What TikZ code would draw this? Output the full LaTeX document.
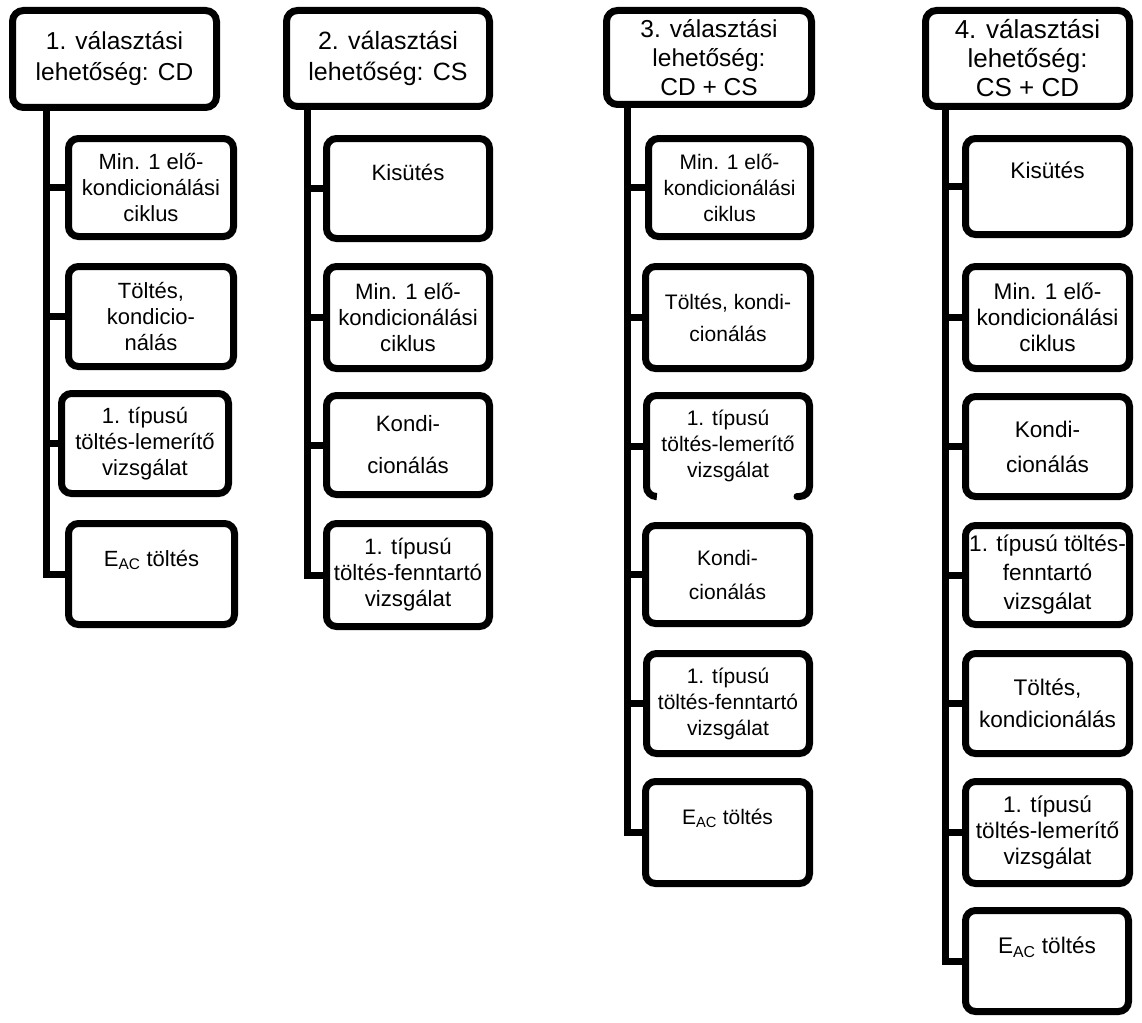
\documentclass[tikz,border=0pt]{standalone}
\usepackage{fontspec}
\setmainfont{Liberation Sans}
\tikzset{
  hdr/.style={draw, line width=7pt, rounded corners=11pt, align=center, inner sep=0pt,
    font=\fontsize{#1}{29}\selectfont},
  stepbox/.style={draw, line width=7pt, rounded corners=10pt, align=center, inner sep=0pt,
    font=\fontsize{#1}{26}\selectfont},
  conn/.style={line width=7pt},
}
\newcommand\boxat[7]{%
  \pgfmathsetmacro\cx{(#3+#5)/2}%
  \pgfmathsetmacro\cy{(#4+#6)/2}%
  \pgfmathsetmacro\ww{#5-#3-7}%
  \pgfmathsetmacro\hh{#6-#4-7}%
  \node[#1, minimum width=\ww pt, minimum height=\hh pt] (#2) at (\cx,\cy) {#7};}
\newcommand\upper[1]{\strut #1\\\strut}
\newcommand\eac{E\textsubscript{AC} töltés}
\begin{document}
\begin{tikzpicture}[x=1pt,y=-1pt]
\useasboundingbox[fill=white] (0,0) rectangle (1142,1022);

% Column 1
\boxat{hdr=24.5}{h1}{9}{7}{220}{111}{1. választási\\[2pt]lehetőség: CD}
\boxat{stepbox=22}{c1a}{65}{135}{237}{240}{Min. 1 elő-\\kondicionálási\\ciklus}
\boxat{stepbox=22}{c1b}{65}{263}{237}{370}{Töltés,\\kondicio-\\nálás}
\boxat{stepbox=22}{c1c}{58}{390}{232}{497}{1. típusú\\töltés-lemerítő\\vizsgálat}
\boxat{stepbox=22}{c1d}{65}{520}{238}{628}{\upper{\eac}}
\coordinate (t1) at (46,0);
\draw[conn] (h1.south -| t1) |- (c1d.west);
\foreach \n in {c1a,c1b,c1c} \draw[conn] (t1 |- \n.west) -- (\n.west);

% Column 2
\boxat{hdr=25}{h2}{283}{7}{493}{110}{2. választási\\[2pt]lehetőség: CS}
\boxat{stepbox=22.2}{c2a}{323}{135}{493}{242}{\upper{Kisütés}}
\boxat{stepbox=22.2}{c2b}{323}{263}{493}{372}{Min. 1 elő-\\kondicionálási\\ciklus}
\boxat{stepbox=22.2}{c2c}{323}{392}{493}{498}{Kondi-\\[16pt]cionálás}
\boxat{stepbox=22.2}{c2d}{323}{520}{493}{630}{1. típusú\\töltés-fenntartó\\vizsgálat}
\coordinate (t2) at (307,0);
\draw[conn] (h2.south -| t2) |- (c2d.west);
\foreach \n in {c2a,c2b,c2c} \draw[conn] (t2 |- \n.west) -- (\n.west);

% Column 3
\boxat{hdr=24.5}{h3}{603}{7}{815}{108}{3. választási\\lehetőség:\\CD + CS}
\boxat{stepbox=21}{c3a}{645}{135}{814}{240}{Min. 1 elő-\\kondicionálási\\ciklus}
\boxat{stepbox=21}{c3b}{642}{263}{814}{372}{Töltés, kondi-\\[6pt]cionálás}
\boxat{stepbox=21,draw=none}{c3c}{643}{392}{813}{500}{1. típusú\\töltés-lemerítő\\vizsgálat}
\draw[line width=7pt, rounded corners=10pt, line cap=round]
  (655,496.5) -- (646.5,496.5) -- (646.5,395.5) -- (809.5,395.5)
  -- (809.5,496.5) -- (797,496.5);
\boxat{stepbox=21}{c3d}{642}{522}{813}{627}{Kondi-\\[8pt]cionálás}
\boxat{stepbox=21}{c3e}{643}{650}{813}{757}{1. típusú\\töltés-fenntartó\\vizsgálat}
\boxat{stepbox=21}{c3f}{642}{778}{813}{887}{\upper{\eac}}
\coordinate (t3) at (627,0);
\draw[conn] (h3.south -| t3) |- (c3f.west);
\foreach \n in {c3a,c3b,c3c,c3d,c3e} \draw[conn] (t3 |- \n.west) -- (\n.west);

% Column 4
\boxat{hdr=26}{h4}{922}{7}{1133}{110}{4. választási\\lehetőség:\\CS + CD}
\boxat{stepbox=22.6}{c4a}{962}{135}{1133}{238}{\upper{Kisütés}}
\boxat{stepbox=22.6}{c4b}{962}{263}{1133}{372}{Min. 1 elő-\\kondicionálási\\ciklus}
\boxat{stepbox=22.6}{c4c}{962}{393}{1133}{500}{Kondi-\\[9pt]cionálás}
\boxat{stepbox=22.6}{c4d}{962}{522}{1133}{628}{1. típusú töltés-\\[3pt]fenntartó\\[3pt]vizsgálat}
\boxat{stepbox=22.6}{c4e}{962}{650}{1133}{757}{Töltés,\\[6pt]kondicionálás}
\boxat{stepbox=22.6}{c4f}{962}{778}{1133}{887}{1. típusú\\töltés-lemerítő\\vizsgálat}
\boxat{stepbox=22.6}{c4g}{962}{907}{1132}{1015}{\upper{\eac}}
\coordinate (t4) at (945,0);
\draw[conn] (h4.south -| t4) |- (c4g.west);
\foreach \n in {c4a,c4b,c4c,c4d,c4e,c4f} \draw[conn] (t4 |- \n.west) -- (\n.west);
\end{tikzpicture}
\end{document}
